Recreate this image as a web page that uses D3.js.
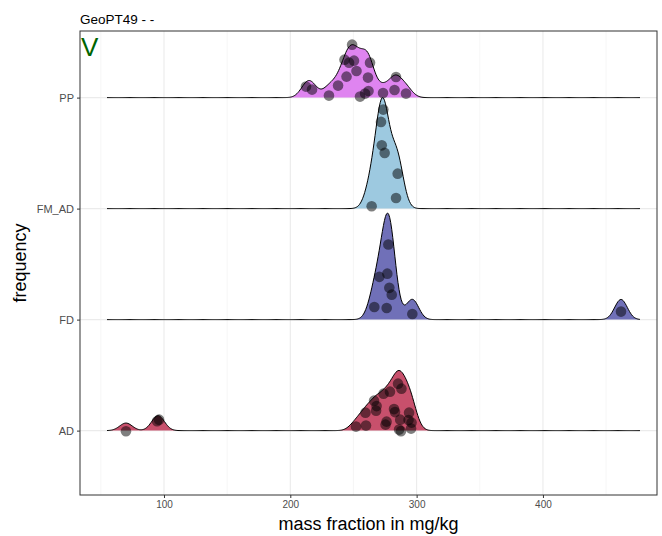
<!DOCTYPE html>
<html>
<head>
<meta charset="utf-8">
<script src="https://cdn.jsdelivr.net/npm/d3@7"></script>
<style>
  body { margin: 0; background: #fff; }
  svg { display: block; font-family: "Liberation Sans", Arial, sans-serif; }
</style>
</head>
<body>
<svg id="chart" width="662" height="536"></svg>
<script>
// ---------------- data ----------------
const categories = ["AD", "FD", "FM_AD", "PP"];
const fillColors = ["#C8506C", "#7070B8", "#9DC9E0", "#DF84F0"];
const xTicks = [100, 200, 300, 400];
const xMinorTicks = [50, 150, 250, 350, 450];
const titleText = "GeoPT49 - -";
const tagText = "V";
const xTitle = "mass fraction in mg/kg";
const yTitle = "frequency";

// mass fraction values per group (mg/kg)
const adValues = [285.3, 288.0, 278.9, 273.8, 266.3, 268.3, 267.9, 259.5, 282.1, 282.9, 294.0, 293.6,
                  296.0, 287.0, 276.2, 275.4, 259.9, 252.0, 286.1, 295.6, 287.6, 69.9, 94.5, 96.1];
const fdValues = [277.6, 270.5, 276.8, 278.4, 280.3, 266.5, 276.3, 296.6, 461.8];
const fmadValues = [273.6, 271.8, 272.4, 274.7, 285.0, 283.7, 264.4];
const ppValues = [212.4, 217.2, 230.6, 237.8, 244.5, 242.9, 248.9, 250.4, 246.5, 252.4, 261.5, 263.1,
                  255.2, 259.2, 261.9, 273.4, 282.5, 283.7, 291.6];

// jitter heights of the points above their baseline (in ridge-spacing units)
const adJitter = [0.423, 0.378, 0.351, 0.333, 0.270, 0.221, 0.180, 0.162, 0.194, 0.167, 0.162, 0.095,
                  0.072, 0.099, 0.081, 0.054, 0.045, 0.036, 0.009, 0.018, -0.005, -0.006, 0.084, 0.099];
const fdJitter = [0.676, 0.385, 0.414, 0.286, 0.225, 0.114, 0.105, 0.051, 0.072];
const fmadJitter = [0.892, 0.781, 0.570, 0.502, 0.315, 0.096, 0.021];
const ppJitter = [0.099, 0.072, 0.018, 0.108, 0.189, 0.342, 0.477, 0.333, 0.315, 0.239, 0.180, 0.315,
                  0.009, 0.036, 0.059, 0.041, 0.068, 0.185, 0.036];

const groupValues = [adValues, fdValues, fmadValues, ppValues];
const groupJitter = [adJitter, fdJitter, fmadJitter, ppJitter];

// ---------------- layout ----------------
const W = 662, H = 536;
const panel = { left: 80, right: 657, top: 31, bottom: 495 };
const ridgeScale = 1.0;

const svg = d3.select("#chart");

const x = d3.scaleLinear().domain([33.5, 490.3]).range([panel.left, panel.right]);
const y = d3.scaleLinear().domain([0.42, 4.6]).range([panel.bottom, panel.top]);

// ---------------- density (ggridges-like: joint nrd0 bandwidth) ----------------
function nrd0(arr) {
  const s = arr.slice().sort(d3.ascending);
  const sd = d3.deviation(s);
  const iqr = d3.quantileSorted(s, 0.75) - d3.quantileSorted(s, 0.25);
  let lo = Math.min(sd, iqr / 1.34);
  if (!(lo > 0)) lo = sd || Math.abs(s[0]) || 1;
  return 0.9 * lo * Math.pow(s.length, -0.2);
}
const bw = d3.mean(groupValues.map(nrd0));
const allVals = groupValues.flat();
const from = d3.min(allVals) - 3 * bw;
const to = d3.max(allVals) + 3 * bw;
const grid = d3.range(512).map(i => from + (to - from) * i / 511);
const norm = 1 / (bw * Math.sqrt(2 * Math.PI));
const densities = groupValues.map(vals => grid.map(g => {
  let s = 0;
  for (const v of vals) { const z = (g - v) / bw; s += Math.exp(-0.5 * z * z); }
  return { x: g, d: s * norm / vals.length };
}));
const maxD = d3.max(densities.flat(), p => p.d);

// ---------------- grid ----------------
const gGrid = svg.append("g");
gGrid.selectAll("line.minor").data(xMinorTicks).join("line")
  .attr("x1", d => x(d)).attr("x2", d => x(d))
  .attr("y1", panel.top).attr("y2", panel.bottom)
  .attr("stroke", "#F2F2F2").attr("stroke-width", 0.7);
gGrid.selectAll("line.major").data(xTicks).join("line")
  .attr("x1", d => x(d)).attr("x2", d => x(d))
  .attr("y1", panel.top).attr("y2", panel.bottom)
  .attr("stroke", "#EBEBEB").attr("stroke-width", 1.1);
gGrid.selectAll("line.hmajor").data(categories).join("line")
  .attr("x1", panel.left).attr("x2", panel.right)
  .attr("y1", (d, i) => y(i + 1)).attr("y2", (d, i) => y(i + 1))
  .attr("stroke", "#EBEBEB").attr("stroke-width", 1.1);

// ---------------- ridges ----------------
const gR = svg.append("g");
for (let i = categories.length - 1; i >= 0; i--) {
  const base = i + 1;
  const dens = densities[i];
  const area = d3.area()
    .x(p => x(p.x))
    .y0(y(base))
    .y1(p => y(base + ridgeScale * p.d / maxD));
  const line = d3.line()
    .x(p => x(p.x))
    .y(p => y(base + ridgeScale * p.d / maxD));
  gR.append("path").attr("d", area(dens)).attr("fill", fillColors[i]);
  gR.append("path").attr("d", line(dens)).attr("fill", "none")
    .attr("stroke", "#000").attr("stroke-width", 1);
  gR.append("g").selectAll("circle").data(groupValues[i]).join("circle")
    .attr("cx", v => x(v))
    .attr("cy", (v, k) => y(base + groupJitter[i][k]))
    .attr("r", 5.3)
    .attr("fill", "#000").attr("fill-opacity", 0.5);
}

// ---------------- panel border ----------------
svg.append("rect")
  .attr("x", panel.left).attr("y", panel.top)
  .attr("width", panel.right - panel.left).attr("height", panel.bottom - panel.top)
  .attr("fill", "none").attr("stroke", "#333").attr("stroke-width", 1);

// ---------------- axes ----------------
const xAxis = svg.append("g").attr("transform", `translate(0,${panel.bottom})`)
  .call(d3.axisBottom(x).tickValues(xTicks).tickSize(3).tickPadding(3).tickFormat(d3.format("d")));
xAxis.select(".domain").remove();
xAxis.selectAll("line").attr("stroke", "#333");
xAxis.selectAll("text").attr("fill", "#4D4D4D").style("font-size", "10px")
  .style("font-family", "Liberation Sans, Arial, sans-serif");

const yAxis = svg.append("g").attr("transform", `translate(${panel.left},0)`)
  .call(d3.axisLeft(y).tickValues(categories.map((c, i) => i + 1)).tickSize(3).tickPadding(3)
    .tickFormat((d) => categories[d - 1]));
yAxis.select(".domain").remove();
yAxis.selectAll("line").attr("stroke", "#333");
yAxis.selectAll("text").attr("fill", "#4D4D4D").style("font-size", "11px")
  .style("font-family", "Liberation Sans, Arial, sans-serif");

// ---------------- titles ----------------
svg.append("text").attr("x", panel.left).attr("y", 24)
  .attr("font-size", 13.5).attr("fill", "#000").text(titleText);
svg.append("text").attr("x", 81).attr("y", 56)
  .attr("font-size", 26).attr("fill", "#006400").text(tagText);
svg.append("text").attr("x", (panel.left + panel.right) / 2).attr("y", 530)
  .attr("text-anchor", "middle").attr("font-size", 18).attr("fill", "#000").text(xTitle);
svg.append("text")
  .attr("transform", `translate(26,${(panel.top + panel.bottom) / 2}) rotate(-90)`)
  .attr("text-anchor", "middle").attr("font-size", 18).attr("fill", "#000").text(yTitle);
</script>
</body>
</html>
